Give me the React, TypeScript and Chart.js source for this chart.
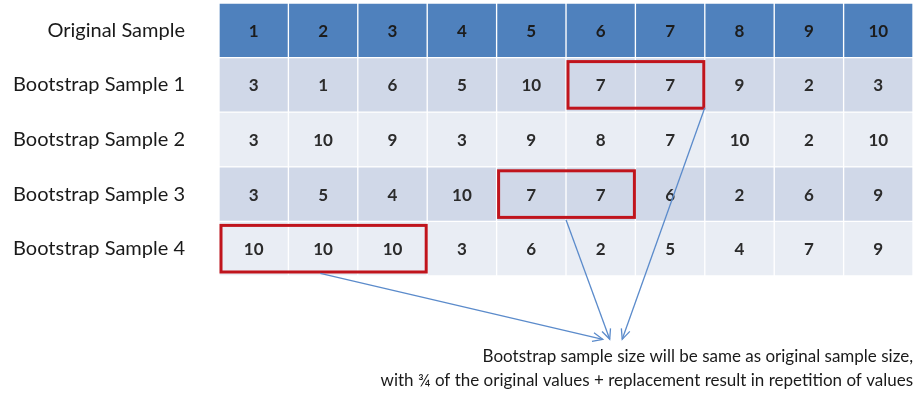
import React, { useEffect, useRef } from "react";
import { Chart, registerables } from "chart.js";

Chart.register(...registerables);

const rowLabels = [
  "Original Sample",
  "Bootstrap Sample 1",
  "Bootstrap Sample 2",
  "Bootstrap Sample 3",
  "Bootstrap Sample 4",
];
const columnNumbers = [1, 2, 3, 4, 5, 6, 7, 8, 9, 10];
const originalSample = [1, 2, 3, 4, 5, 6, 7, 8, 9, 10];
const bootstrapSample1 = [3, 1, 6, 5, 10, 7, 7, 9, 2, 3];
const bootstrapSample2 = [3, 10, 9, 3, 9, 8, 7, 10, 2, 10];
const bootstrapSample3 = [3, 5, 4, 10, 7, 7, 6, 2, 6, 9];
const bootstrapSample4 = [10, 10, 10, 3, 6, 2, 5, 4, 7, 9];
const rowValues = [originalSample, bootstrapSample1, bootstrapSample2, bootstrapSample3, bootstrapSample4];

// highlighted repeated values: row index, first column (0-based start), end column
const highlightRows = [1, 3, 4];
const highlightFrom = [5, 4, 0];
const highlightTo = [7, 6, 3];

// arrows in scale units (x: column units, y: row index units)
const arrowFromX = [7, 5, 1.46];
const arrowFromY = [1.42, 3.47, 4.45];
const arrowToX = [5.81, 5.63, 5.53];
const arrowToY = [5.66, 5.66, 5.66];

const footnote = [
  "Bootstrap sample size will be same as original sample size,",
  "with \u00BE of the original values + replacement result in repetition of values",
];

const rowColors = ["#4F81BD", "#D0D8E8", "#E9EDF4", "#D0D8E8", "#E9EDF4"];

const cellPlugin = {
  id: "cellPlugin",
  afterDatasetsDraw(chart: any) {
    const ctx = chart.ctx;
    const x = chart.scales.x;
    const y = chart.scales.y;
    ctx.save();
    // cell numbers
    ctx.font = "bold 17px Lato";
    ctx.textAlign = "center";
    ctx.textBaseline = "middle";
    chart.data.datasets.forEach((ds: any, c: number) => {
      const meta = chart.getDatasetMeta(c);
      meta.data.forEach((el: any, r: number) => {
        ctx.fillStyle = r === 0 ? "#1c1c1c" : "#2b2b2b";
        ctx.fillText(String(rowValues[r][c]), el.x - (el.x - el.base) / 2, el.y + 1);
      });
    });
    // red boxes
    ctx.strokeStyle = "#C0141C";
    ctx.lineWidth = 3;
    highlightRows.forEach((r, i) => {
      const x0 = x.getPixelForValue(highlightFrom[i]) + 2;
      const x1 = x.getPixelForValue(highlightTo[i]) - 1;
      const y0 = y.getPixelForValue(r - 0.5) + 4;
      const y1 = y.getPixelForValue(r + 0.5) - 4;
      ctx.strokeRect(x0, y0, x1 - x0, y1 - y0);
    });
    // arrows
    ctx.strokeStyle = "#5B8BCB";
    ctx.lineWidth = 1.3;
    arrowFromX.forEach((fx, i) => {
      const sx = x.getPixelForValue(fx);
      const sy = y.getPixelForValue(arrowFromY[i]);
      const ex = x.getPixelForValue(arrowToX[i]);
      const ey = y.getPixelForValue(arrowToY[i]);
      ctx.beginPath();
      ctx.moveTo(sx, sy);
      ctx.lineTo(ex, ey);
      ctx.stroke();
      const ang = Math.atan2(ey - sy, ex - sx);
      const len = 11;
      const spread = 0.42;
      ctx.beginPath();
      ctx.moveTo(ex - len * Math.cos(ang - spread), ey - len * Math.sin(ang - spread));
      ctx.lineTo(ex, ey);
      ctx.lineTo(ex - len * Math.cos(ang + spread), ey - len * Math.sin(ang + spread));
      ctx.stroke();
    });
    ctx.restore();
  },
};

export default function App() {
  const ref = useRef<HTMLCanvasElement | null>(null);
  useEffect(() => {
    if (!ref.current) return;
    const chart = new Chart(ref.current, {
      type: "bar",
      data: {
        labels: rowLabels,
        datasets: columnNumbers.map((n, c) => ({
          label: String(n),
          data: rowLabels.map(() => [c, c + 1]),
          backgroundColor: rowColors,
          borderColor: "#FFFFFF",
          borderWidth: 1,
          borderSkipped: false,
          barPercentage: 1,
          categoryPercentage: 1,
          grouped: false,
        })) as any,
      },
      options: {
        indexAxis: "y",
        animation: false,
        responsive: false,
        layout: { padding: { top: 3, right: 5, left: 0, bottom: 0 } },
        scales: {
          x: { type: "linear", min: 0, max: 10, display: false },
          y: {
            type: "category",
            grid: { display: false, drawTicks: false },
            border: { display: false },
            ticks: {
              padding: 34,
              color: "#1a1a1a",
              font: { family: "Lato", size: 20 },
            },
            afterFit: (s: any) => {
              s.width = 219;
              s.paddingTop = 0;
              s.paddingBottom = 0;
            },
          },
        },
        plugins: {
          legend: { display: false },
          tooltip: { enabled: false },
          title: {
            display: true,
            position: "bottom",
            align: "end",
            text: footnote,
            color: "#1a1a1a",
            font: { family: "Lato", size: 17, weight: "normal", lineHeight: 1.412 },
            padding: { top: 69, bottom: 6 },
          },
        },
      },
      plugins: [cellPlugin],
    });
    return () => chart.destroy();
  }, []);
  return (
    <div style={{ position: "absolute", left: 0, top: 0, width: 918, height: 399, background: "#fff" }}>
      <canvas ref={ref} width={918} height={399} style={{ display: "block" }} />
    </div>
  );
}
